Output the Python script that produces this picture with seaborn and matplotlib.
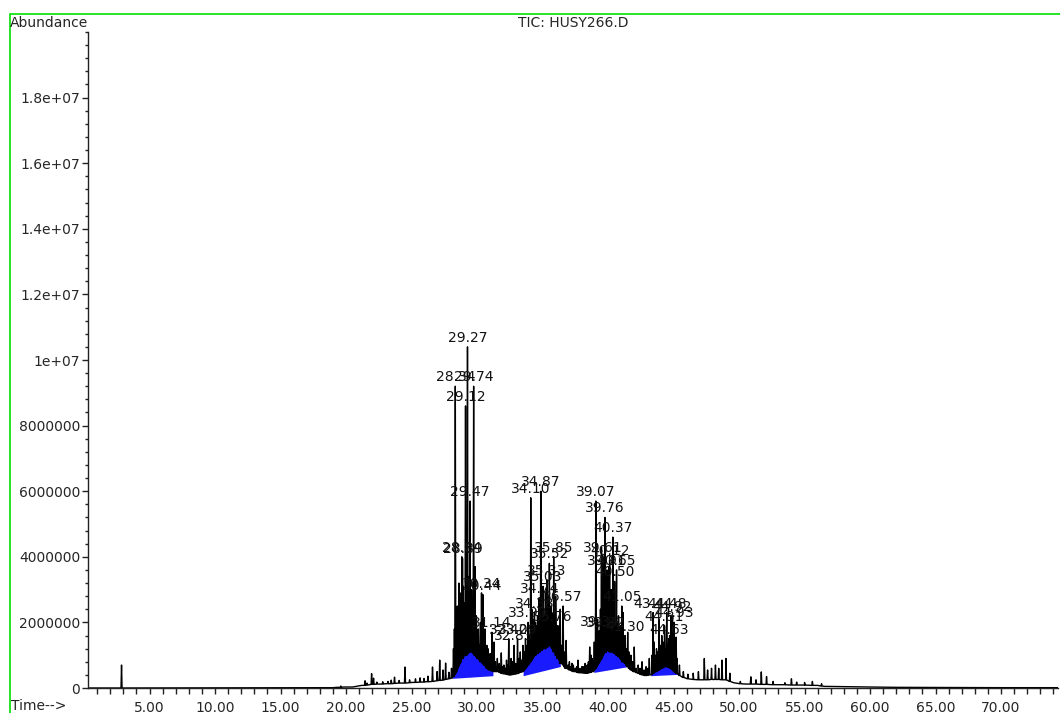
import pandas as pd
import seaborn as sns
import matplotlib.pyplot as plt
from matplotlib.ticker import FixedLocator, FixedFormatter, MultipleLocator
from matplotlib.patches import Polygon, Rectangle

# slow part of the signal (minutes, abundance)
base_time = [0.3, 2.7, 3.1, 19.0, 19.3, 19.8, 20.5, 21.2, 22.0, 23.0, 24.0, 25.0, 26.0,
             27.0, 28.0, 28.3, 28.6, 29.0, 29.5, 30.0, 30.5, 31.0, 31.5, 32.0, 32.5,
             33.0, 33.5, 34.0, 34.5, 35.0, 35.5, 36.0, 36.3, 36.7, 37.2, 37.8, 38.4,
             38.9, 39.3, 39.8, 40.3, 40.8, 41.3, 41.8, 42.3, 42.8, 43.3, 43.8, 44.3,
             44.8, 45.3, 45.8, 46.5, 47.0, 48.0, 49.0, 49.6, 50.5, 52.0, 53.5, 55.0,
             56.0, 56.5, 58.0, 60.0, 62.0, 65.0, 70.0, 74.4]
base_abund = [0, 0, 0, 1e4, 2e4, 3e4, 3e4, 8e4, 1.2e5, 1.3e5, 1.5e5, 1.7e5, 1.9e5,
              2.3e5, 3.0e5, 4.0e5, 8.0e5, 1.0e6, 1.1e6, 9.0e5, 7.0e5, 5.5e5, 5.0e5, 4.3e5, 4.0e5,
              4.3e5, 5.0e5, 8.0e5, 1.1e6, 1.2e6, 1.3e6, 1.0e6, 7.5e5, 6.0e5, 5.2e5, 4.6e5, 4.5e5,
              5.0e5, 9.0e5, 1.2e6, 1.1e6, 1.0e6, 7.5e5, 5.5e5, 4.5e5, 3.8e5, 4.0e5, 5.5e5, 6.5e5,
              6.0e5, 4.5e5, 3.2e5, 2.6e5, 2.5e5, 2.6e5, 2.5e5, 1.6e5, 1.2e5, 1.1e5, 1.0e5, 9e4,
              8e4, 5e4, 4e4, 3e4, 2e4, 1.5e4, 1e4, 1e4]

# peaks: retention time, apex abundance, abundance at the foot
peak_time = [2.86, 19.60, 21.45, 21.60, 21.95, 22.10, 22.35, 22.80, 23.20, 23.45, 23.70,
             24.05, 24.50, 24.85, 25.30, 25.65, 25.95, 26.25, 26.60, 26.95, 27.15, 27.40,
             27.60, 27.85, 28.05,
             28.20, 28.34, 28.50, 28.62, 28.84, 28.89, 29.00, 29.12, 29.27, 29.35, 29.47,
             29.58, 29.74, 29.85, 29.95, 30.10, 30.34, 30.44, 30.60, 30.75, 30.90, 31.14,
             31.30, 31.55, 31.85, 32.05, 32.25, 32.42, 32.60, 32.83, 33.09, 33.30, 33.50,
             33.70, 33.90, 34.10, 34.25, 34.38, 34.55, 34.74, 34.87, 35.03, 35.15, 35.33,
             35.42, 35.52, 35.65, 35.76, 35.85, 36.00, 36.15, 36.35, 36.57, 36.80, 37.05,
             37.35, 37.70, 38.00, 38.25, 38.60, 38.80,
             39.07, 39.20, 39.34, 39.50, 39.61, 39.76, 39.82, 39.91, 40.05, 40.12, 40.25,
             40.37, 40.50, 40.65, 40.80, 41.05, 41.15, 41.30, 41.50, 41.75, 42.00, 42.30,
             42.60, 42.90, 43.15,
             43.44, 43.70, 43.90, 44.10, 44.31, 44.48, 44.63, 44.82, 44.92, 45.05, 45.20,
             45.45, 45.75, 46.10, 46.50, 46.90, 47.35, 47.60, 47.90, 48.20, 48.45, 48.70,
             49.00, 49.30, 50.10, 50.90, 51.30, 51.70, 52.10, 52.60, 53.50, 54.00, 54.40,
             55.00, 55.60, 56.30]
peak_height = [7.0e5, 6e4, 2.2e5, 1.5e5, 4.4e5, 3.0e5, 1.8e5, 1.9e5, 2.0e5, 2.4e5, 3.3e5,
               2.3e5, 6.4e5, 2.5e5, 2.8e5, 3.1e5, 2.9e5, 3.6e5, 6.4e5, 5.0e5, 8.5e5, 5.5e5,
               7.6e5, 4.8e5, 6.0e5,
               1.2e6, 9.2e6, 2.5e6, 3.2e6, 4.0e6, 3.95e6, 2.6e6, 8.6e6, 1.04e7, 3.4e6, 5.7e6,
               3.0e6, 9.2e6, 3.7e6, 2.2e6, 1.8e6, 2.9e6, 2.85e6, 1.8e6, 1.3e6, 1.0e6, 1.7e6,
               1.4e6, 9e5, 1.07e6, 7e5, 8.5e5, 1.5e6, 9e5, 1.3e6, 1.5e6, 1.1e6, 1.3e6,
               1.5e6, 2.0e6, 5.8e6, 2.1e6, 2.3e6, 1.9e6, 2.75e6, 6.0e6, 3.1e6, 2.2e6, 3.3e6,
               2.4e6, 3.8e6, 2.5e6, 1.9e6, 4.0e6, 2.8e6, 1.9e6, 2.4e6, 2.5e6, 1.45e6, 8e5,
               7e5, 8.5e5, 6.5e5, 7.5e5, 1.25e6, 9e5,
               5.7e6, 2.1e6, 1.75e6, 4.3e6, 4.0e6, 5.2e6, 1.7e6, 3.6e6, 3.7e6, 3.9e6, 3.0e6,
               4.6e6, 3.25e6, 3.6e6, 2.2e6, 2.5e6, 2.3e6, 1.6e6, 1.7e6, 1.0e6, 1.25e6, 7e5,
               8e5, 6.5e5, 9e5,
               2.3e6, 1.2e6, 2.1e6, 1.6e6, 1.9e6, 2.3e6, 1.5e6, 2.2e6, 2.2e6, 2.0e6, 1.55e6,
               7e5, 5e5, 4.2e5, 4.5e5, 5e5, 9e5, 5.5e5, 6.0e5, 7.0e5, 6.0e5, 8.5e5,
               9.0e5, 4.5e5, 2.0e5, 3.4e5, 2.5e5, 4.9e5, 3.5e5, 2.0e5, 1.6e5, 2.8e5, 1.8e5,
               1.7e5, 2.0e5, 1.3e5]
peak_base = [0, 2e4, 8e4, 9e4, 1.1e5, 1.1e5, 1.2e5, 1.2e5, 1.3e5, 1.3e5, 1.4e5,
             1.5e5, 1.5e5, 1.6e5, 1.7e5, 1.8e5, 1.8e5, 1.9e5, 2.0e5, 2.2e5, 2.3e5, 2.4e5,
             2.6e5, 2.8e5, 3.0e5,
             3.5e5, 4.5e5, 6e5, 7e5, 9e5, 9e5, 1.0e6, 1.0e6, 1.05e6, 1.1e6, 1.1e6,
             1.1e6, 1.05e6, 1.0e6, 9.5e5, 9e5, 8e5, 7.5e5, 7e5, 6e5, 5.5e5, 5.2e5,
             5.0e5, 5.0e5, 4.5e5, 4.3e5, 4.2e5, 4.0e5, 4.0e5, 4.2e5, 4.4e5, 4.8e5, 5.0e5,
             6e5, 7e5, 8e5, 9e5, 1.0e6, 1.05e6, 1.1e6, 1.15e6, 1.2e6, 1.2e6, 1.25e6,
             1.3e6, 1.3e6, 1.25e6, 1.2e6, 1.1e6, 1.0e6, 9e5, 8e5, 7e5, 6e5, 5.5e5,
             5.0e5, 4.7e5, 4.6e5, 4.5e5, 4.7e5, 5e5,
             6e5, 7e5, 8e5, 9e5, 1.0e6, 1.1e6, 1.1e6, 1.15e6, 1.15e6, 1.1e6, 1.1e6,
             1.1e6, 1.05e6, 1.0e6, 9.5e5, 8.5e5, 8e5, 7.5e5, 6.5e5, 5.5e5, 5e5, 4.5e5,
             4.0e5, 3.8e5, 4.0e5,
             4.5e5, 5e5, 5.5e5, 6e5, 6.5e5, 6.5e5, 6.3e5, 6e5, 5.5e5, 5.0e5, 4.5e5,
             3.8e5, 3.2e5, 2.8e5, 2.6e5, 2.5e5, 2.5e5, 2.5e5, 2.6e5, 2.6e5, 2.6e5, 2.5e5,
             2.5e5, 2.0e5, 1.3e5, 1.2e5, 1.2e5, 1.1e5, 1.1e5, 1.0e5, 1.0e5, 9e4, 9e4,
             9e4, 8e4, 6e4]

# smaller unlabelled spikes that make the clusters look dense
minor_time = [28.27, 28.42, 28.56, 28.70, 28.77, 28.95, 29.05, 29.20, 29.41, 29.53, 29.66,
              29.80, 29.90, 30.02, 30.18, 30.26, 30.52, 30.68, 30.83, 31.00, 31.22,
              31.40, 31.70, 31.95, 32.15, 32.35, 32.50, 32.70, 32.95, 33.20, 33.40,
              33.60, 33.80, 33.98, 34.04, 34.18, 34.32, 34.46, 34.62, 34.68, 34.80, 34.95,
              35.09, 35.22, 35.28, 35.38, 35.47, 35.58, 35.70, 35.80, 35.92, 36.07, 36.22,
              36.28, 36.45, 36.65,
              36.95, 37.15, 37.25, 37.50, 37.60, 37.85, 38.10, 38.40, 38.50, 38.70,
              38.95, 39.00, 39.13, 39.27, 39.42, 39.55, 39.68, 39.72, 39.86, 39.97, 40.00,
              40.18, 40.31, 40.43, 40.56, 40.70, 40.74, 40.88, 40.95, 41.10, 41.22, 41.38,
              41.60, 41.85, 41.95, 42.15, 42.45, 42.75, 43.05,
              43.35, 43.52, 43.60, 43.80, 43.98, 44.04, 44.20, 44.38, 44.55, 44.70, 44.76,
              44.87, 44.98, 45.12, 45.28]
minor_height = [1.8e6, 2.2e6, 1.6e6, 2.9e6, 1.9e6, 3.1e6, 2.0e6, 2.8e6, 2.5e6, 2.0e6, 2.7e6,
                2.1e6, 1.6e6, 1.5e6, 1.3e6, 2.0e6, 1.4e6, 1.1e6, 1.2e6, 1.05e6, 1.1e6,
                8e5, 7.5e5, 6.5e5, 6e5, 7e5, 6.5e5, 8e5, 7.5e5, 9e5, 8.5e5,
                1.1e6, 1.3e6, 1.6e6, 1.4e6, 2.4e6, 1.6e6, 2.0e6, 2.2e6, 1.7e6, 2.4e6, 2.6e6,
                2.0e6, 2.9e6, 2.1e6, 2.0e6, 2.8e6, 2.1e6, 2.3e6, 1.8e6, 2.2e6, 1.8e6, 1.5e6,
                1.9e6, 1.3e6, 1.1e6,
                7e5, 6.5e5, 7.5e5, 6e5, 6.5e5, 6e5, 6.5e5, 7e5, 8e5, 1.0e6,
                1.4e6, 1.2e6, 2.0e6, 1.5e6, 2.4e6, 1.9e6, 2.6e6, 2.0e6, 2.2e6, 2.0e6, 2.5e6,
                2.2e6, 2.4e6, 2.0e6, 2.1e6, 1.8e6, 2.0e6, 1.6e6, 1.9e6, 1.4e6, 1.5e6, 1.2e6,
                1.1e6, 8e5, 8e5, 6e5, 6e5, 5.5e5, 6e5,
                1.0e6, 1.4e6, 1.0e6, 1.1e6, 1.3e6, 1.0e6, 1.4e6, 1.2e6, 1.3e6, 1.6e6, 1.2e6,
                1.3e6, 1.1e6, 1.0e6, 9e5]
minor_base = [4e5, 5e5, 6.5e5, 7.5e5, 8e5, 9.5e5, 1.0e6, 1.0e6, 1.1e6, 1.1e6, 1.1e6,
              1.0e6, 1.0e6, 9e5, 8.5e5, 8e5, 7e5, 6.5e5, 6e5, 5.5e5, 5e5,
              5e5, 4.8e5, 4.4e5, 4.3e5, 4.1e5, 4.0e5, 4.1e5, 4.3e5, 4.6e5, 4.9e5,
              5.5e5, 6.5e5, 7.5e5, 8e5, 8.5e5, 9.5e5, 1.0e6, 1.05e6, 1.1e6, 1.1e6, 1.15e6,
              1.2e6, 1.2e6, 1.25e6, 1.25e6, 1.3e6, 1.3e6, 1.25e6, 1.2e6, 1.1e6, 1.0e6, 9e5,
              8.5e5, 7.5e5, 6.5e5,
              5.8e5, 5.4e5, 5.2e5, 5.0e5, 4.9e5, 4.7e5, 4.6e5, 4.5e5, 4.6e5, 4.8e5,
              5.5e5, 6e5, 6.5e5, 7.5e5, 8.5e5, 9.5e5, 1.05e6, 1.1e6, 1.1e6, 1.15e6, 1.15e6,
              1.1e6, 1.1e6, 1.1e6, 1.05e6, 1.0e6, 1.0e6, 9.5e5, 9e5, 8e5, 7.8e5, 7e5,
              6e5, 5.3e5, 5e5, 4.7e5, 4.2e5, 3.9e5, 3.9e5,
              4.2e5, 4.7e5, 5e5, 5.3e5, 5.8e5, 6e5, 6.2e5, 6.5e5, 6.4e5, 6.2e5, 6e5,
              5.7e5, 5.3e5, 4.8e5, 4.4e5]

# integrated peaks get a label: which peak, and the text printed above it
label_time = [28.34, 29.74, 29.27, 29.12, 29.47, 28.84, 28.89, 30.34, 30.44, 31.14,
              32.42, 32.83, 33.09, 33.90, 34.10, 34.87, 34.38, 34.74, 35.03, 35.33,
              35.52, 35.85, 35.76, 36.57,
              39.07, 39.76, 40.37, 39.61, 40.12, 39.91, 40.65, 40.50, 41.05, 41.30,
              39.34, 39.82, 43.44, 44.48, 44.92, 45.05, 44.31, 44.63]
label_text = ["28.34", "29.74", "29.27", "29.12", "29.47", "28.84", "28.89", "30.34", "30.44", "31.14",
              "32.42", "32.83", "33.09", "33.90", "34.10", "34.87", "34.38", "34.74", "35.03", "35.33",
              "35.52", "35.85", "35.76", "36.57",
              "39.07", "39.76", "40.37", "39.61", "40.12", "39.91", "40.65", "40.50", "41.05", "41.30",
              "39.34", "39.82", "43.44", "44.48", "44.92", "44.93", "44.31", "44.63"]

# integration windows (shaded blue) and the integration baseline at both ends
blue_start = [28.15, 33.55, 38.95, 43.30]
blue_end = [31.25, 36.40, 41.60, 45.35]
blue_base_start = [2.8e5, 3.6e5, 4.6e5, 3.6e5]
blue_base_end = [3.6e5, 6.4e5, 6.4e5, 4.0e5]

xtick_values = [5, 10, 15, 20, 25, 30, 35, 40, 45, 50, 55, 60, 65, 70]
xtick_labels = ["5.00", "10.00", "15.00", "20.00", "25.00", "30.00", "35.00",
                "40.00", "45.00", "50.00", "55.00", "60.00", "65.00", "70.00"]
ytick_values = [0, 2e6, 4e6, 6e6, 8e6, 1e7, 1.2e7, 1.4e7, 1.6e7, 1.8e7]
ytick_labels = ["0", "2000000", "4000000", "6000000", "8000000",
                "1e+07", "1.2e+07", "1.4e+07", "1.6e+07", "1.8e+07"]

# assemble the trace: smooth points plus a narrow spike for each peak
rows = list(zip(base_time, base_abund))
for t, h, b in zip(peak_time, peak_height, peak_base):
    rows += [(t - 0.04, b), (t, h), (t + 0.04, b)]
for t, h, b in zip(minor_time, minor_height, minor_base):
    rows += [(t - 0.03, b), (t, h), (t + 0.03, b)]
trace = pd.DataFrame(rows, columns=["time", "abundance"])
trace = trace.sort_values("time", kind="stable").reset_index(drop=True)

sns.set_style("ticks")
plt.rcParams["font.family"] = ["DejaVu Sans"]
plt.rcParams["font.size"] = 10

W, H = 1060, 713
fig = plt.figure(figsize=(W / 100, H / 100), dpi=100)
ax = fig.add_axes([88 / W, 25 / H, (1058 - 88) / W, (681 - 25) / H])

for s, e, bs, be in zip(blue_start, blue_end, blue_base_start, blue_base_end):
    seg = trace[(trace["time"] >= s) & (trace["time"] <= e)]
    verts = [(s, bs)] + list(zip(seg["time"], seg["abundance"])) + [(e, be)]
    ax.add_patch(Polygon(verts, closed=True, facecolor="#1a1aff",
                         edgecolor="none", zorder=1))

sns.lineplot(data=trace, x="time", y="abundance", estimator=None, sort=False,
             color="black", lw=1.0, ax=ax, zorder=2)

apex = dict(zip(peak_time, peak_height))
for t, txt in zip(label_time, label_text):
    ax.text(t, apex[t] + 6e4, txt, ha="center", va="bottom", fontsize=10,
            color="#111111", zorder=3)

ax.set_xlim(0.3, 74.35)
ax.set_ylim(0, 2.0e7)
ax.xaxis.set_major_locator(FixedLocator(xtick_values))
ax.xaxis.set_major_formatter(FixedFormatter(xtick_labels))
ax.xaxis.set_minor_locator(MultipleLocator(1))
ax.yaxis.set_major_locator(FixedLocator(ytick_values))
ax.yaxis.set_major_formatter(FixedFormatter(ytick_labels))
ax.yaxis.set_minor_locator(MultipleLocator(4e5))
ax.tick_params(axis="both", which="both", direction="out", color="#222222", width=1)
ax.tick_params(axis="x", which="major", length=4, pad=5, labelsize=10)
ax.tick_params(axis="x", which="minor", length=4)
ax.tick_params(axis="y", which="major", length=4, pad=1.5, labelsize=10)
ax.tick_params(axis="y", which="minor", length=2.5)
ax.set_xlabel("")
ax.set_ylabel("")
for side in ["top", "right"]:
    ax.spines[side].set_visible(False)
for side in ["left", "bottom"]:
    ax.spines[side].set_color("#222222")
    ax.spines[side].set_linewidth(1.0)

fig.text(10 / W, 1 - 23 / H, "Abundance", ha="left", va="center", fontsize=10)
fig.text(573 / W, 1 - 23 / H, "TIC: HUSY266.D", ha="center", va="center", fontsize=10)
fig.text(11 / W, 1 - 706 / H, "Time-->", ha="left", va="center", fontsize=10)

fig.add_artist(Rectangle((10 / W, -0.1), 1.0, 1.1 - 14 / H, transform=fig.transFigure,
                         fill=False, edgecolor="#00e000", lw=1.2))

fig.savefig("out.png", dpi=100)
